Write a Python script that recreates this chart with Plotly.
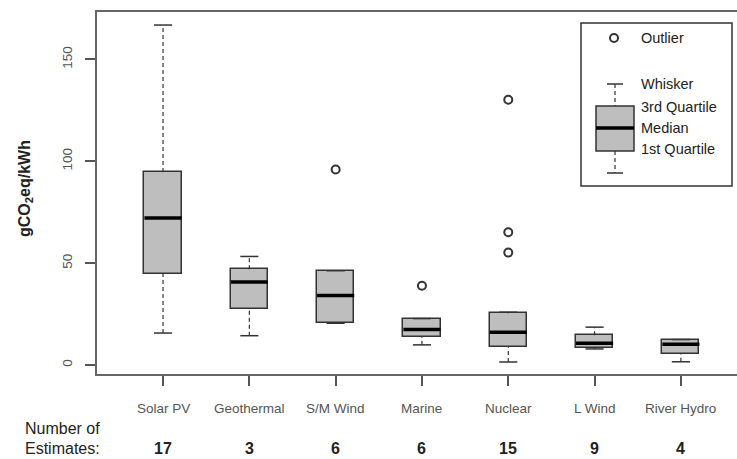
import plotly.graph_objects as go

categories = ["Solar PV", "Geothermal", "S/M Wind", "Marine", "Nuclear", "L Wind", "River Hydro"]
n_estimates = [17, 3, 6, 6, 15, 9, 4]
whisker_low = [15.7, 14.4, 20.5, 9.9, 1.5, 7.9, 1.6]
q1 = [44.7, 27.6, 20.5, 13.8, 8.7, 8.4, 5.3]
median = [72.2, 40.7, 34.1, 17.5, 16.1, 10.7, 10.2]
q3 = [94.7, 47.0, 46.3, 22.8, 25.4, 14.6, 12.3]
whisker_high = [166.9, 53.3, 46.3, 22.8, 25.9, 18.6, 12.5]
outlier_cat = ["S/M Wind", "Marine", "Nuclear", "Nuclear", "Nuclear"]
outlier_val = [96.0, 38.9, 130.2, 65.2, 55.2]
y_ticks = [0, 50, 100, 150]

pos = list(range(len(categories)))
BW = 0.43
CAP = 0.105
LINE = "#333333"
FILL = "#bebebe"
FONT = "Liberation Sans, Arial, sans-serif"

fig = go.Figure()

# boxes
fig.add_trace(go.Bar(x=pos, y=[h - l for h, l in zip(q3, q1)], base=q1, width=BW,
                     marker=dict(color=FILL, line=dict(color=LINE, width=1.5)),
                     hoverinfo="skip", showlegend=False))

# whiskers (dashed) and caps
wx, wy, cx, cy, mx, my = [], [], [], [], [], []
for p, lo, a, m, b, hi in zip(pos, whisker_low, q1, median, q3, whisker_high):
    wx += [p, p, None, p, p, None]
    wy += [b, hi, None, lo, a, None]
    cx += [p - CAP, p + CAP, None, p - CAP, p + CAP, None]
    cy += [hi, hi, None, lo, lo, None]
    mx += [p - BW / 2, p + BW / 2, None]
    my += [m, m, None]
fig.add_trace(go.Scatter(x=wx, y=wy, mode="lines", line=dict(color=LINE, width=1.2, dash="4px,3px"),
                         hoverinfo="skip", showlegend=False))
fig.add_trace(go.Scatter(x=cx, y=cy, mode="lines", line=dict(color=LINE, width=1.5),
                         hoverinfo="skip", showlegend=False))
fig.add_trace(go.Scatter(x=mx, y=my, mode="lines", line=dict(color="black", width=3.5),
                         hoverinfo="skip", showlegend=False))

# outliers
fig.add_trace(go.Scatter(x=[categories.index(c) for c in outlier_cat], y=outlier_val, mode="markers",
                         marker=dict(symbol="circle-open", size=8, color=LINE, line=dict(width=2)),
                         hoverinfo="skip", showlegend=False))

# layout geometry (pixels)
W, H = 737, 459
L, R, T, B = 97, 0, 12, 85
PW, PH = W - L - R, H - T - B


def px(x):
    return (x - L) / PW


def py(y):
    return (H - B - y) / PH


annotations = []
for p, c, n in zip(pos, categories, n_estimates):
    annotations.append(dict(x=p, y=0, xref="x", yref="paper", text=c, showarrow=False,
                            yanchor="middle", yshift=-34, font=dict(size=13.5, color="#555", family=FONT)))
    annotations.append(dict(x=p, y=0, xref="x", yref="paper", text="<b>%d</b>" % n, showarrow=False,
                            yanchor="middle", yshift=-74, font=dict(size=16, color="#222", family=FONT)))
annotations.append(dict(x=px(23), y=py(428), xref="paper", yref="paper", text="Number of",
                        showarrow=False, xanchor="left", yanchor="middle",
                        font=dict(size=16, color="#222", family=FONT)))
annotations.append(dict(x=px(23), y=py(448), xref="paper", yref="paper", text="Estimates:",
                        showarrow=False, xanchor="left", yanchor="middle",
                        font=dict(size=16, color="#222", family=FONT)))
annotations.append(dict(x=px(25), y=py(189), xref="paper", yref="paper", text="<b>gCO<sub>2</sub>eq/kWh</b>",
                        showarrow=False, textangle=-90, xanchor="center", yanchor="middle",
                        font=dict(size=16, color="#222", family=FONT)))

# legend texts
for txt, yy in [("Outlier", 38), ("Whisker", 84), ("3rd Quartile", 107), ("Median", 128), ("1st Quartile", 149)]:
    annotations.append(dict(x=px(639), y=py(yy), xref="paper", yref="paper", text=txt, showarrow=False,
                            xanchor="left", yanchor="middle", font=dict(size=14.5, color="#222", family=FONT)))

shapes = []
P = dict(xref="paper", yref="paper")
shapes.append(dict(type="rect", x0=px(581), x1=px(732), y0=py(186), y1=py(23),
                   line=dict(color="#333", width=1.5), fillcolor="white", **P))
shapes.append(dict(type="circle", x0=px(610), x1=px(618), y0=py(42), y1=py(34),
                   line=dict(color=LINE, width=2), **P))
shapes.append(dict(type="line", x0=px(615), x1=px(615), y0=py(84), y1=py(106),
                   line=dict(color=LINE, width=1.2, dash="4px,3px"), **P))
shapes.append(dict(type="line", x0=px(615), x1=px(615), y0=py(151), y1=py(173),
                   line=dict(color=LINE, width=1.2, dash="4px,3px"), **P))
shapes.append(dict(type="line", x0=px(607), x1=px(623), y0=py(84), y1=py(84),
                   line=dict(color=LINE, width=1.5), **P))
shapes.append(dict(type="line", x0=px(607), x1=px(623), y0=py(173), y1=py(173),
                   line=dict(color=LINE, width=1.5), **P))
shapes.append(dict(type="rect", x0=px(596), x1=px(634), y0=py(151), y1=py(106),
                   line=dict(color=LINE, width=1.5), fillcolor=FILL, **P))
shapes.append(dict(type="line", x0=px(596), x1=px(634), y0=py(128), y1=py(128),
                   line=dict(color="black", width=3.5), **P))

fig.update_layout(
    width=W, height=H,
    margin=dict(l=L, r=R, t=T, b=B, pad=0),
    paper_bgcolor="white", plot_bgcolor="white",
    font=dict(family=FONT),
    bargap=0,
    xaxis=dict(range=[-0.765, 6.65], tickvals=pos, ticktext=[""] * len(pos), ticks="outside",
               ticklen=10, tickcolor="#555", tickwidth=1.5, showline=True, mirror=True,
               linecolor="#666", linewidth=2, showgrid=False, zeroline=False, fixedrange=True),
    yaxis=dict(range=[-4.4, 173.3], tickvals=y_ticks, ticks="outside", ticklen=10, tickcolor="#555",
               tickwidth=1.5, tickangle=-90, tickfont=dict(size=13.5, color="#555", family=FONT),
               showline=True, linecolor="#666", linewidth=2, showgrid=False, zeroline=False,
               ticklabelstandoff=8, fixedrange=True),
    annotations=annotations,
    shapes=shapes,
    showlegend=False,
)

fig.write_html("out.html", post_script="document.body.style.margin='0px';document.body.style.overflow='hidden';",
               config={"displayModeBar": False})
